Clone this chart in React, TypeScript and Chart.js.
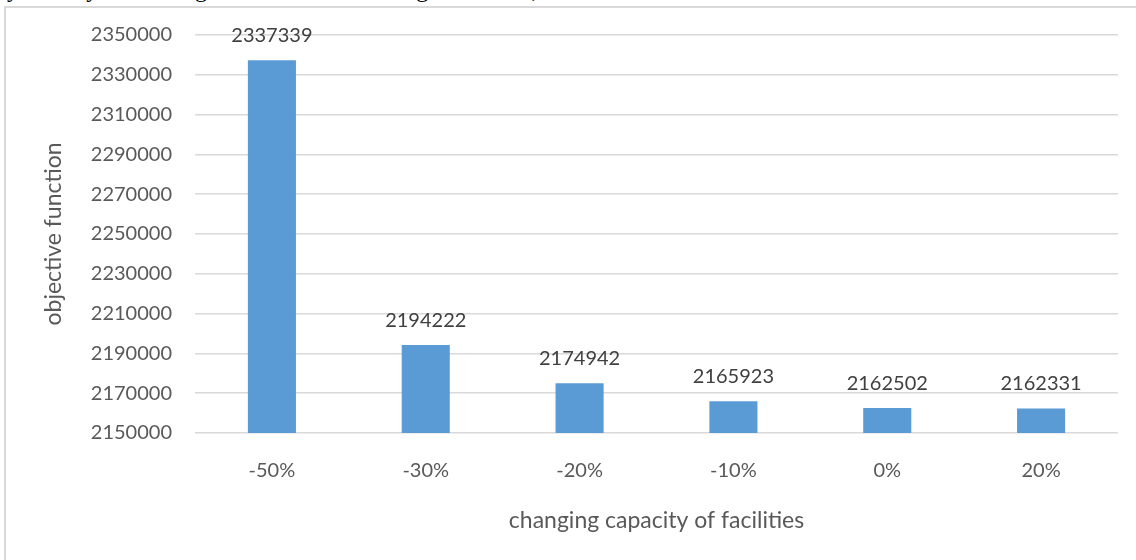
import React, { useEffect, useRef } from "react";
import { Chart, registerables } from "chart.js";

Chart.register(...registerables);

const categories = ["-50%", "-30%", "-20%", "-10%", "0%", "20%"];
const values = [2337339, 2194222, 2174942, 2165923, 2162502, 2162331];
const yMin = 2150000;
const yMax = 2350000;
const yStep = 20000;
const xTitle = "changing capacity of facilities";
const yTitle = "objective function";
const topText = "by directly decreasing the number of missing customers, we will have fewer costs.";

const FONT = "Lato, 'Open Sans', sans-serif";

const dataLabels = {
  id: "dataLabels",
  afterDatasetsDraw(chart: any) {
    const ctx = chart.ctx;
    const meta = chart.getDatasetMeta(0);
    ctx.save();
    ctx.font = `20px ${FONT}`;
    ctx.fillStyle = "#404040";
    ctx.textAlign = "center";
    ctx.textBaseline = "alphabetic";
    meta.data.forEach((bar: any, i: number) => {
      ctx.fillText(String(values[i]), bar.x, bar.y - 18);
    });
    ctx.restore();
  },
};

export default function App() {
  const ref = useRef<HTMLCanvasElement>(null);
  useEffect(() => {
    if (!ref.current) return;
    const chart = new Chart(ref.current, {
      type: "bar",
      data: {
        labels: categories,
        datasets: [
          {
            data: values,
            backgroundColor: "#5b9bd5",
            borderWidth: 0,
            barPercentage: 0.3125,
            categoryPercentage: 1,
          },
        ],
      },
      options: {
        responsive: false,
        animation: false,
        layout: { padding: { top: 35, right: 18, left: 0, bottom: 0 } },
        plugins: { legend: { display: false }, tooltip: { enabled: false } },
        scales: {
          x: {
            grid: { display: false, drawTicks: false },
            border: { display: false },
            ticks: { color: "#595959", font: { family: FONT, size: 20 }, padding: 26 },
            title: {
              display: true,
              text: xTitle,
              color: "#595959",
              font: { family: FONT, size: 23 },
              padding: { top: 0, bottom: 26 },
            },
            afterFit(scale: any) {
              scale.height = 560 - 433;
            },
          },
          y: {
            min: yMin,
            max: yMax,
            grid: { color: "#d9d9d9", lineWidth: 1.5, drawTicks: false },
            border: { display: false },
            ticks: {
              stepSize: yStep,
              color: "#595959",
              font: { family: FONT, size: 20 },
              padding: 23,
              callback: (v: any) => String(v),
            },
            title: {
              display: true,
              text: yTitle,
              color: "#595959",
              font: { family: FONT, size: 23 },
              padding: { top: 40, bottom: 0 },
            },
            afterFit(scale: any) {
              scale.width = 195;
            },
          },
        },
      },
      plugins: [dataLabels],
    });
    return () => chart.destroy();
  }, []);

  return (
    <div style={{ position: "absolute", left: 0, top: 0, width: 1136, height: 560, overflow: "hidden", background: "#fff" }}>
      <div
        style={{
          position: "absolute",
          top: -23,
          left: -5,
          whiteSpace: "nowrap",
          fontFamily: "'Liberation Serif', serif",
          fontSize: 24,
          lineHeight: "24px",
          color: "#000",
        }}
      >
        {topText}
      </div>
      <div
        style={{
          position: "absolute",
          left: 4,
          top: 6,
          width: 1200,
          height: 600,
          borderLeft: "2px solid #d9d9d9",
          borderTop: "2px solid #d9d9d9",
        }}
      />
      <canvas ref={ref} width={1136} height={560} style={{ position: "absolute", left: 0, top: 0 }} />
    </div>
  );
}
